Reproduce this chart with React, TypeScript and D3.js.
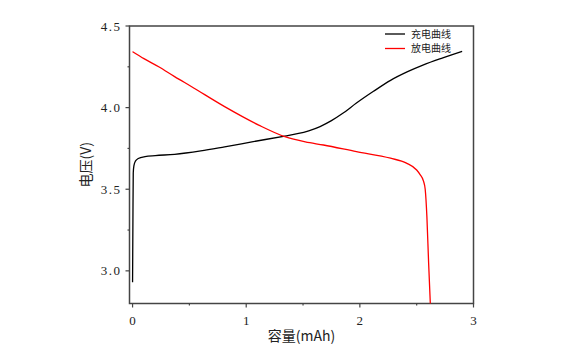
import React, { useEffect, useRef } from "react";
import * as d3 from "d3";

// charge curve (capacity mAh, voltage V)
const chargeCap = [0, 0.003, 0.006, 0.012, 0.025, 0.05, 0.11, 0.2, 0.37, 0.6, 0.81, 1.05, 1.34, 1.45, 1.55, 1.65, 1.75, 1.85, 1.97, 2.12, 2.27, 2.42, 2.56, 2.73, 2.9];
const chargeV = [2.93, 3.3, 3.6, 3.645, 3.672, 3.688, 3.7, 3.706, 3.714, 3.735, 3.76, 3.79, 3.826, 3.84, 3.858, 3.884, 3.92, 3.965, 4.028, 4.1, 4.167, 4.22, 4.262, 4.305, 4.345];

// discharge curve
const dischargeCap = [0, 0.1, 0.23, 0.37, 0.52, 0.81, 1.11, 1.34, 1.52, 1.68, 1.97, 2.27, 2.41, 2.5, 2.53, 2.56, 2.575, 2.59, 2.605, 2.62];
const dischargeV = [4.343, 4.3, 4.25, 4.19, 4.128, 4.006, 3.893, 3.822, 3.79, 3.771, 3.73, 3.69, 3.66, 3.618, 3.59, 3.55, 3.5, 3.33, 3.05, 2.8];

const xTicks = [0, 1, 2, 3];
const xMinor = [0.5, 1.5, 2.5];
const yTicks = [3.0, 3.5, 4.0, 4.5];
const yMinor = [3.25, 3.75, 4.25];

const seriesNames = ["充电曲线", "放电曲线"];
const seriesColors = ["#000000", "#ff0000"];

const App = () => {
  const svgRef = useRef<SVGSVGElement>(null);

  useEffect(() => {
    const svg = d3.select(svgRef.current);
    svg.selectAll("*").remove();

    const left = 129.5;
    const right = 473.5;
    const top = 26;
    const bottom = 303.5;
    const axisColor = "#444";
    const numFont = "'Liberation Serif', 'DejaVu Serif', serif";
    const cjkFont = "'Noto Sans CJK SC', sans-serif";

    const x = d3.scaleLinear().domain([-0.027, 3]).range([left, right]);
    const y = d3.scaleLinear().domain([2.8, 4.5]).range([bottom, top]);

    // frame
    svg
      .append("rect")
      .attr("x", left)
      .attr("y", top)
      .attr("width", right - left)
      .attr("height", bottom - top)
      .attr("fill", "none")
      .attr("stroke", axisColor)
      .attr("stroke-width", 1.5);

    // x ticks
    const g = svg.append("g");
    xTicks.forEach((t) => {
      g.append("line")
        .attr("x1", x(t))
        .attr("x2", x(t))
        .attr("y1", bottom)
        .attr("y2", bottom + 4)
        .attr("stroke", axisColor)
        .attr("stroke-width", 1.2);
      g.append("text")
        .attr("x", x(t))
        .attr("y", bottom + 21)
        .attr("text-anchor", "middle")
        .attr("font-family", numFont)
        .attr("font-size", 13)
        .attr("fill", "#222")
        .text(d3.format("d")(t));
    });
    xMinor.forEach((t) => {
      g.append("line")
        .attr("x1", x(t))
        .attr("x2", x(t))
        .attr("y1", bottom)
        .attr("y2", bottom + 2)
        .attr("stroke", axisColor)
        .attr("stroke-width", 1.2);
    });

    // y ticks
    yTicks.forEach((t) => {
      g.append("line")
        .attr("x1", left)
        .attr("x2", left - 4)
        .attr("y1", y(t))
        .attr("y2", y(t))
        .attr("stroke", axisColor)
        .attr("stroke-width", 1.2);
      g.append("text")
        .attr("x", left - 8)
        .attr("y", y(t))
        .attr("dy", "0.35em")
        .attr("text-anchor", "end")
        .attr("font-family", numFont)
        .attr("font-size", 13)
        .attr("letter-spacing", 1.5)
        .attr("fill", "#222")
        .text(d3.format(".1f")(t));
    });
    yMinor.forEach((t) => {
      g.append("line")
        .attr("x1", left)
        .attr("x2", left - 2)
        .attr("y1", y(t))
        .attr("y2", y(t))
        .attr("stroke", axisColor)
        .attr("stroke-width", 1.2);
    });

    // axis titles
    svg
      .append("text")
      .attr("x", (left + right) / 2)
      .attr("y", 341)
      .attr("text-anchor", "middle")
      .attr("font-family", cjkFont)
      .attr("font-size", 14)
      .attr("fill", "#222")
      .text("容量(mAh)");
    svg
      .append("text")
      .attr("transform", `translate(91,${(top + bottom) / 2}) rotate(-90)`)
      .attr("text-anchor", "middle")
      .attr("font-family", cjkFont)
      .attr("font-size", 14)
      .attr("fill", "#222")
      .text("电压(V)");

    // curves
    const line = d3
      .line<[number, number]>()
      .x((d) => x(d[0]))
      .y((d) => y(d[1]))
      .curve(d3.curveMonotoneX);

    const series = [
      d3.zip(chargeCap, chargeV) as [number, number][],
      d3.zip(dischargeCap, dischargeV) as [number, number][],
    ];

    series.forEach((s, i) => {
      svg
        .append("path")
        .attr("d", line(s))
        .attr("fill", "none")
        .attr("stroke", seriesColors[i])
        .attr("stroke-width", 1.3);
    });

    // legend
    const rowH = 14.5;
    seriesNames.forEach((name, i) => {
      const ly = 34 + i * rowH;
      svg
        .append("line")
        .attr("x1", 385)
        .attr("x2", 405)
        .attr("y1", ly)
        .attr("y2", ly)
        .attr("stroke", seriesColors[i])
        .attr("stroke-width", 1.3);
      svg
        .append("text")
        .attr("x", 411)
        .attr("y", ly + 3.6)
        .attr("font-family", cjkFont)
        .attr("font-size", 10)
        .attr("fill", "#222")
        .text(name);
    });
  }, []);

  return (
    <svg
      ref={svgRef}
      width={572}
      height={352}
      style={{ position: "absolute", left: 0, top: 0, background: "#fff" }}
    />
  );
};

export default App;
